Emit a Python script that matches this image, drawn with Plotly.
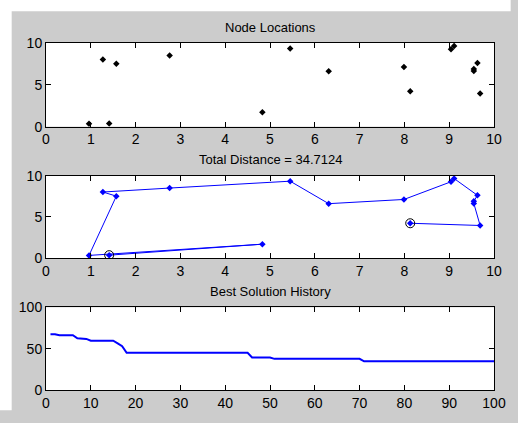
import plotly.graph_objects as go
from plotly.subplots import make_subplots

# ---- data (tour order) ----
node_x = [8.13, 9.69, 9.55, 9.55, 9.63, 9.11, 9.04, 7.99, 6.31, 5.45, 2.76, 1.27, 1.57, 0.96, 4.83, 1.41]
node_y = [4.24, 3.97, 6.64, 6.90, 7.62, 9.65, 9.26, 7.12, 6.61, 9.33, 8.50, 8.02, 7.52, 0.35, 1.71, 0.38]

iterations = list(range(1, 101))
best_history = [
    67.5, 67.5, 66.2, 66.2, 66.2, 66.2, 62.5, 62.5, 61.8, 59.6,
    59.6, 59.6, 59.6, 59.6, 59.6, 56.5, 53.0, 45.0, 45.0, 45.0,
    45.0, 45.0, 45.0, 45.0, 45.0, 45.0, 45.0, 45.0, 45.0, 45.0,
    45.0, 45.0, 45.0, 45.0, 45.0, 45.0, 45.0, 45.0, 45.0, 45.0,
    45.0, 45.0, 45.0, 45.0, 45.0, 39.3, 39.3, 39.3, 39.3, 39.3,
    37.7, 37.7, 37.7, 37.7, 37.7, 37.7, 37.7, 37.7, 37.7, 37.7,
    37.7, 37.7, 37.7, 37.7, 37.7, 37.7, 37.7, 37.7, 37.7, 37.7,
    34.71, 34.71, 34.71, 34.71, 34.71, 34.71, 34.71, 34.71, 34.71, 34.71,
    34.71, 34.71, 34.71, 34.71, 34.71, 34.71, 34.71, 34.71, 34.71, 34.71,
    34.71, 34.71, 34.71, 34.71, 34.71, 34.71, 34.71, 34.71, 34.71, 34.71,
]

titles = ["Node Locations", "Total Distance = 34.7124", "Best Solution History"]
node_ticks = [0, 1, 2, 3, 4, 5, 6, 7, 8, 9, 10]
node_yticks = [0, 5, 10]
hist_xticks = [0, 10, 20, 30, 40, 50, 60, 70, 80, 90, 100]
hist_yticks = [0, 50, 100]

# ---- layout geometry (window pixels; body margin removed below) ----
W, H = 518, 423
PL, PR, PT, PB = 46, 503, 43, 404          # plot area
ML, MR, MT, MB = PL, W - PR, PT, H - PB
PW, PH = W - ML - MR, H - MT - MB


def ypap(sy):
    return (PB - sy) / PH


def xpap(sx):
    return (sx - PL) / PW


BLUE = "rgb(0,0,255)"
GRAY = "#cccccc"
FONT = "Liberation Sans, Arial, sans-serif"
TICKFONT = "Liberation Sans Narrow, Liberation Sans, Arial, sans-serif"

fig = make_subplots(rows=3, cols=1)

fig.add_trace(go.Scatter(x=node_x, y=node_y, mode="markers",
                         marker=dict(symbol="diamond", size=5, color="black"),
                         showlegend=False), row=1, col=1)

fig.add_trace(go.Scatter(x=node_x, y=node_y, mode="lines+markers",
                         line=dict(color=BLUE, width=1),
                         marker=dict(symbol="diamond", size=5, color=BLUE),
                         showlegend=False), row=2, col=1)
fig.add_trace(go.Scatter(x=[node_x[0], node_x[-1]], y=[node_y[0], node_y[-1]], mode="markers",
                         marker=dict(symbol="circle-open", size=9, color="black",
                                     line=dict(width=1, color="black")),
                         showlegend=False), row=2, col=1)

fig.add_trace(go.Scatter(x=iterations, y=best_history, mode="lines",
                         line=dict(color=BLUE, width=2),
                         showlegend=False), row=3, col=1)

domains = [(ypap(130), ypap(43)), (ypap(267), ypap(181)), (ypap(404), ypap(318))]
axis_common = dict(showgrid=False, zeroline=False, showline=True, linecolor="black",
                   linewidth=1, mirror="ticks", ticks="inside", ticklen=5,
                   tickcolor="black", tickfont=dict(family=TICKFONT, size=14, color="black"))

for i in range(3):
    xa = "xaxis" if i == 0 else f"xaxis{i+1}"
    ya = "yaxis" if i == 0 else f"yaxis{i+1}"
    if i < 2:
        fig.layout[xa].update(range=[0, 10], tickvals=node_ticks, domain=[0, 1], **axis_common)
        fig.layout[ya].update(range=[0, 10], tickvals=node_yticks, domain=list(domains[i]), **axis_common)
    else:
        fig.layout[xa].update(range=[0, 100], tickvals=hist_xticks, domain=[0, 1], **axis_common)
        fig.layout[ya].update(range=[0, 100], tickvals=hist_yticks, domain=list(domains[i]), **axis_common)

title_py = [27, 164, 301.5]
for t, py in zip(titles, title_py):
    fig.add_annotation(text=t, xref="paper", yref="paper", x=xpap(274.5), y=ypap(py),
                       xanchor="center", yanchor="middle", showarrow=False,
                       font=dict(family=FONT, size=13, color="black"))

# white strips at top/left of the screenshot (gray starts at x=11, y=10)
fig.add_shape(type="rect", xref="paper", yref="paper", x0=xpap(-2), x1=xpap(11),
              y0=ypap(H + 2), y1=ypap(-2), fillcolor="white", line=dict(width=0))
fig.add_shape(type="rect", xref="paper", yref="paper", x0=xpap(-2), x1=xpap(W + 2),
              y0=ypap(10), y1=ypap(-2), fillcolor="white", line=dict(width=0))

fig.update_layout(width=W, height=H, margin=dict(l=ML, r=MR, t=MT, b=MB),
                  paper_bgcolor=GRAY, plot_bgcolor="white", showlegend=False,
                  font=dict(family=FONT, size=13, color="black"))

fig.write_html("out.html", config={"displayModeBar": False},
               post_script="document.body.style.margin='0';document.body.style.overflow='hidden';")
